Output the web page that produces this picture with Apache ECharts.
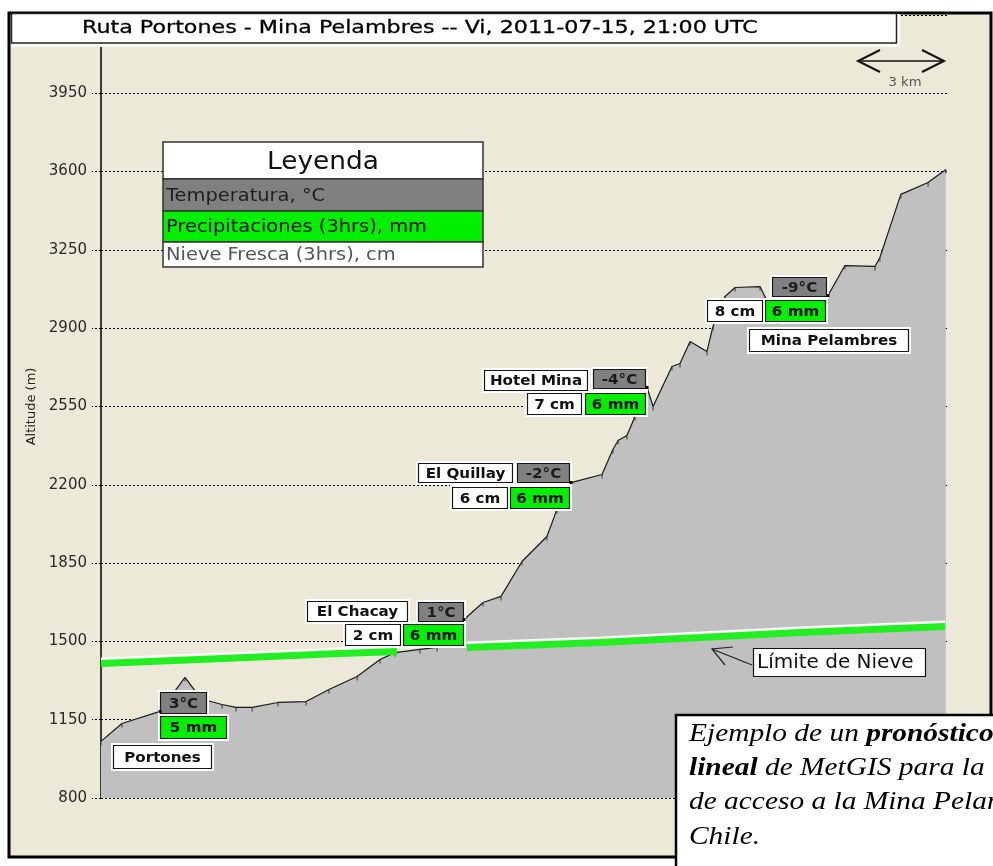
<!DOCTYPE html>
<html>
<head>
<meta charset="utf-8">
<script src="https://cdn.jsdelivr.net/npm/echarts@6/dist/echarts.min.js"></script>
<style>html,body{margin:0;padding:0;background:#fff}#c{width:993px;height:866px}</style>
</head>
<body>
<div id="c"></div>
<script>
// ---------- DATA ----------
const titleText = 'Ruta Portones - Mina Pelambres -- Vi, 2011-07-15, 21:00 UTC';
const yTicks = [800, 1150, 1500, 1850, 2200, 2550, 2900, 3250, 3600, 3950, 4300];

// terrain profile: distance (km) and altitude (m)
const profileKm = [0, 0.73, 2.06, 2.51, 2.93, 3.35, 3.70, 4.22, 4.71, 5.27, 6.17, 7.15, 7.95, 8.93, 9.73, 10.25, 11.12, 11.72, 12.66, 13.32, 13.95, 14.68, 15.55, 15.90, 16.39, 17.47, 17.85, 18.03, 18.34, 18.62, 19.04, 19.25, 19.91, 20.19, 20.54, 21.13, 21.34, 21.76, 22.11, 22.98, 23.15, 23.61, 25.35, 25.94, 26.99, 27.16, 27.89, 28.84, 29.46];
const profileAlt = [1053, 1133, 1187, 1267, 1339, 1267, 1236, 1218, 1205, 1205, 1227, 1231, 1285, 1343, 1419, 1450, 1464, 1473, 1598, 1674, 1701, 1857, 1969, 2090, 2210, 2246, 2358, 2398, 2420, 2505, 2635, 2550, 2729, 2742, 2841, 2796, 2908, 3042, 3082, 3086, 3042, 2934, 3046, 3180, 3176, 3216, 3498, 3551, 3609];

// snow limit (two visible segments)
const snowKm1 = [0, 4.25, 8.33, 10.32];
const snowAlt1 = [1401, 1424, 1446, 1455];
const snowKm2 = [12.76, 17.40, 20.89, 24.37, 29.43];
const snowAlt2 = [1473, 1495, 1517, 1540, 1567];

// locations
const locNames = ['Portones', 'El Chacay', 'El Quillay', 'Hotel Mina', 'Mina Pelambres'];
const locKm = [2.06, 12.66, 16.39, 19.04, 25.35];
const locAlt = [1187, 1598, 2210, 2635, 3046];
const locTemp = [3, 1, -2, -4, -9];
const locPrecip = [5, 6, 6, 6, 6];
const locSnow = [null, 2, 6, 7, 8];

const legendTitle = 'Leyenda';
const legendRows = ['Temperatura, °C', 'Precipitaciones (3hrs), mm', 'Nieve Fresca (3hrs), cm'];

// ---------- LAYOUT (pixel offsets of label boxes relative to each location point) ----------
const boxLayout = [
  { temp:{dx:0,dy:-19,w:47,h:22}, precip:{dx:0,dy:5,w:67,h:23}, snow:null, name:{dx:-47,dy:34,w:99,h:24} },
  { temp:{dx:-46,dy:-17,w:46,h:20}, precip:{dx:-61,dy:5,w:61,h:22}, snow:{dx:-119,dy:5,w:56,h:22}, name:{dx:-157,dy:-18,w:101,h:21} },
  { temp:{dx:-54,dy:-20,w:53,h:20}, precip:{dx:-61,dy:4,w:60,h:22}, snow:{dx:-119,dy:4,w:56,h:22}, name:{dx:-153,dy:-20,w:95,h:20} },
  { temp:{dx:-54,dy:-18,w:53,h:20}, precip:{dx:-62,dy:6,w:61,h:22}, snow:{dx:-120,dy:6,w:55,h:22}, name:{dx:-163,dy:-17,w:104,h:21} },
  { temp:{dx:-56,dy:-19,w:55,h:20}, precip:{dx:-63,dy:4,w:61,h:22}, snow:{dx:-121,dy:4,w:56,h:22}, name:{dx:-79,dy:33,w:160,h:23} }
];

const BEIGE = '#ECE9D8';
const GRAY_AREA = '#C0C0C0';
const TEMP_FILL = '#808080';
const PREC_FILL = '#00F000';
const SANS = 'DejaVu Sans';
const SERIF = 'Liberation Serif';

const chart = echarts.init(document.getElementById('c'), null, {renderer:'canvas'});

function renderLoc(params, api) {
  const i = params.dataIndex;
  const p = api.coord([api.value(0), api.value(1)]);
  const L = boxLayout[i];
  const children = [];
  function box(spec, text, fill, color) {
    if (!spec) return;
    const x = Math.round(p[0] + spec.dx), y = Math.round(p[1] + spec.dy);
    children.push({type:'rect', shape:{x:x-2, y:y-2, width:spec.w+4, height:spec.h+4}, style:{fill:'#ffffff'}});
    children.push({type:'rect', shape:{x:x+0.5, y:y+0.5, width:spec.w-1, height:spec.h-1}, style:{fill:fill, stroke:'#151515', lineWidth:1.2}});
    children.push({type:'text', x:x+spec.w/2, y:y+spec.h/2+1, scaleX:1.08,
      style:{text:text, fontFamily:SANS, fontSize:14, fontWeight:'bold', fill:color, align:'center', verticalAlign:'middle'}});
  }
  box(L.name, locNames[i], '#ffffff', '#111');
  box(L.temp, locTemp[i] + '°C', TEMP_FILL, '#1a1a1a');
  box(L.precip, locPrecip[i] + ' mm', PREC_FILL, '#0a0a0a');
  if (locSnow[i] != null) box(L.snow, locSnow[i] + ' cm', '#ffffff', '#111');
  children.push({type:'rect', shape:{x:p[0]-1.5, y:p[1]-1.5, width:3, height:3}, style:{fill:'#000'}});
  return {type:'group', children};
}

const G = [];
// beige plot background inside the frame
G.push({type:'rect', z:-10, shape:{x:10, y:14, width:980, height:842}, style:{fill:BEIGE}});
// outer frame
G.push({type:'rect', z:90, shape:{x:9, y:13, width:982, height:844}, style:{fill:'none', stroke:'#000', lineWidth:3}});
// title box
G.push({type:'rect', z:95, shape:{x:11, y:14, width:889, height:33}, style:{fill:'#ffffff'}});
G.push({type:'rect', z:96, shape:{x:11.5, y:13.5, width:885, height:29.5}, style:{fill:'#ffffff', stroke:'#222', lineWidth:1.5}});
G.push({type:'text', z:97, x:82, y:28.5, scaleX:1.2, style:{text:titleText, fontFamily:SANS, fontSize:18.5, fill:'#000', stroke:'#000', lineWidth:0.3, align:'left', verticalAlign:'middle'}});
// 3 km scale
G.push({type:'line', z:96, shape:{x1:858, y1:61, x2:944, y2:61}, style:{stroke:'#111', lineWidth:1.6}});
G.push({type:'polyline', z:96, shape:{points:[[880,50],[858,61],[880,72]]}, style:{stroke:'#111', lineWidth:2, fill:'none'}});
G.push({type:'polyline', z:96, shape:{points:[[922,50],[944,61],[922,72]]}, style:{stroke:'#111', lineWidth:2, fill:'none'}});
G.push({type:'text', z:96, x:905, y:83, scaleX:1.1, style:{text:'3 km', fontFamily:SANS, fontSize:12, fill:'#555', align:'center', verticalAlign:'middle'}});
// legend
G.push({type:'rect', z:96, shape:{x:163, y:142, width:320, height:37}, style:{fill:'#ffffff', stroke:'#333', lineWidth:1.5}});
G.push({type:'text', z:97, x:323, y:163, scaleX:1.1, style:{text:legendTitle, fontFamily:SANS, fontSize:24, fill:'#111', align:'center', verticalAlign:'middle'}});
const rowY = [179, 211, 242], rowH = [32, 31, 25], rowFill = [TEMP_FILL, PREC_FILL, '#ffffff'], rowColor = ['#1e1e1e', '#0a0a0a', '#555'];
legendRows.forEach((t, k) => {
  G.push({type:'rect', z:96, shape:{x:163, y:rowY[k], width:320, height:rowH[k]}, style:{fill:rowFill[k], stroke:'#333', lineWidth:1.5}});
  G.push({type:'text', z:97, x:166, y:rowY[k] + rowH[k]/2 + 1, scaleX:1.08, style:{text:t, fontFamily:SANS, fontSize:18, fill:rowColor[k], align:'left', verticalAlign:'middle'}});
});
// Límite de Nieve annotation
G.push({type:'rect', z:96, shape:{x:753.5, y:648.5, width:172, height:28}, style:{fill:'#ffffff', stroke:'#111', lineWidth:1.2}});
G.push({type:'text', z:97, x:757, y:663, style:{text:'Límite de Nieve', fontFamily:SANS, fontSize:20, fill:'#111', align:'left', verticalAlign:'middle'}});
G.push({type:'line', z:96, shape:{x1:752, y1:665, x2:712, y2:649}, style:{stroke:'#222', lineWidth:1.2}});
G.push({type:'polyline', z:96, shape:{points:[[733,647],[712,649],[725,665]]}, style:{stroke:'#222', lineWidth:1.2, fill:'none'}});
// bottom-right caption box
G.push({type:'rect', z:98, shape:{x:676, y:715, width:340, height:180}, style:{fill:'#ffffff', stroke:'#000', lineWidth:2.5}});
const capRich = {
  n:{fontFamily:SERIF, fontSize:24.5, fontStyle:'italic', fill:'#000'},
  b:{fontFamily:SERIF, fontSize:24.5, fontStyle:'italic', fontWeight:'bold', fill:'#000'}
};
const capLines = ['{n|Ejemplo de un }{b|pronóstico}', '{b|lineal}{n| de MetGIS para la}', '{n|de acceso a la Mina Pelambres}', '{n|Chile.}'];
const capY = [735, 769, 803, 838];
capLines.forEach((t, k) => {
  G.push({type:'text', z:99, x:689, y:capY[k], scaleX:1.2, style:{text:t, rich:capRich, fontFamily:SERIF, fontSize:24.5, fontStyle:'italic', align:'left', verticalAlign:'middle'}});
});

const option = {
  backgroundColor:'#ffffff',
  animation:false,
  grid:{left:101, right:46, top:15, bottom:68, containLabel:false},
  xAxis:{type:'value', min:0, max:29.5, show:false},
  yAxis:{
    type:'value', min:yTicks[0], max:yTicks[yTicks.length-1], interval:yTicks[1]-yTicks[0],
    name:'Altitude (m)', nameLocation:'middle', nameGap:56,
    nameTextStyle:{fontFamily:SANS, fontSize:13, color:'#222'},
    axisLine:{show:true, lineStyle:{color:'#000', width:1.5}},
    axisTick:{show:true, length:9, lineStyle:{color:'#000', type:[2,2], width:1}},
    axisLabel:{margin:14, fontFamily:SANS, fontSize:15, color:'#2a2a2a', showMaxLabel:false, formatter:v => String(v)},
    splitLine:{show:true, lineStyle:{color:'#000', type:[2,2], width:1}}
  },
  series:[
    {
      type:'line', name:'Perfil', z:2, silent:true,
      data:profileKm.map((k, i) => [k, profileAlt[i]]),
      showSymbol:true, symbol:'rect', symbolSize:[1,4], symbolOffset:[0,2],
      itemStyle:{color:'#333'},
      lineStyle:{color:'#1a1a1a', width:1.2},
      areaStyle:{color:GRAY_AREA, opacity:1, origin:'start'},
      emphasis:{disabled:true}
    },
    {
      type:'line', name:'Límite de Nieve', z:3, silent:true,
      data:snowKm1.map((k, i) => [k, snowAlt1[i]]),
      showSymbol:false,
      lineStyle:{color:'#22EE22', width:7, shadowColor:'rgba(255,255,255,0.95)', shadowOffsetY:-2.5, shadowBlur:0},
      emphasis:{disabled:true}
    },
    {
      type:'line', name:'Límite de Nieve 2', z:3, silent:true,
      data:snowKm2.map((k, i) => [k, snowAlt2[i]]),
      showSymbol:false,
      lineStyle:{color:'#22EE22', width:7, shadowColor:'rgba(255,255,255,0.95)', shadowOffsetY:-2.5, shadowBlur:0},
      emphasis:{disabled:true}
    },
    {
      type:'custom', name:'Ubicaciones', z:10, silent:true,
      data:locKm.map((k, i) => [k, locAlt[i]]),
      renderItem:renderLoc
    }
  ],
  graphic:{elements:G}
};
chart.setOption(option);
</script>
</body>
</html>
